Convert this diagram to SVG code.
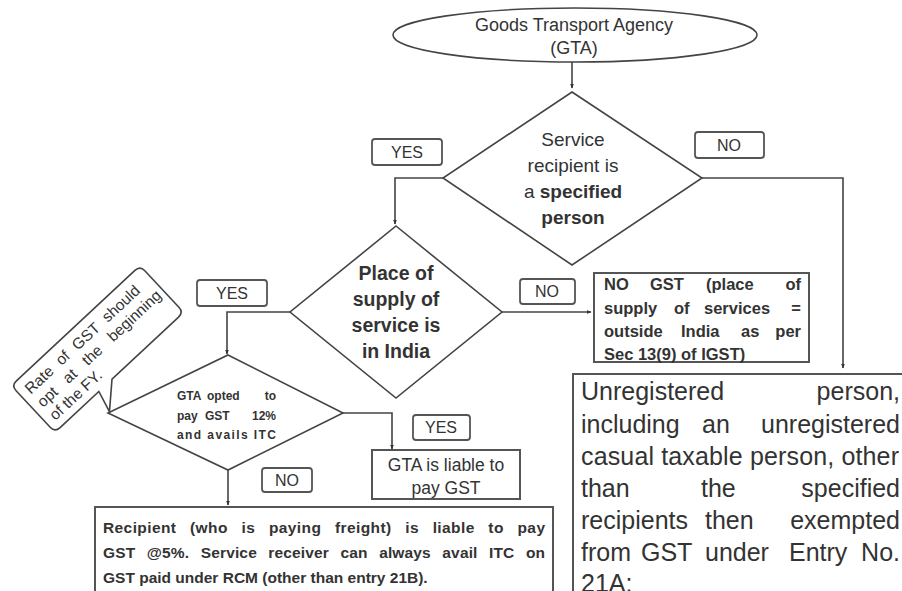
<svg xmlns="http://www.w3.org/2000/svg" width="902" height="591" viewBox="0 0 902 591">
<defs>
<marker id="ah" viewBox="0 0 10 10" refX="9" refY="5" markerWidth="5" markerHeight="5" orient="auto-start-reverse" markerUnits="userSpaceOnUse">
<path d="M0,1 L10,5 L0,9 z" fill="#333"/>
</marker>
<style>
.shape{fill:#fff;stroke:#444;stroke-width:1.6}
.box{fill:#fff;stroke:#555;stroke-width:2}
.lbl{fill:#fff;stroke:#555;stroke-width:1.8}
.conn{fill:none;stroke:#444;stroke-width:1.6}
text{font-family:"Liberation Sans",Arial,sans-serif;fill:#333}
.c{text-anchor:middle}
.b{font-weight:bold}
.e{text-anchor:end}
</style>
</defs>
<rect width="902" height="591" fill="#fff"/>

<g id="connectors">
<path class="conn" d="M572,62 V88" marker-end="url(#ah)"/>
<path class="conn" d="M443,178 H395 V224" marker-end="url(#ah)"/>
<path class="conn" d="M702,178 H843 V368" marker-end="url(#ah)"/>
<path class="conn" d="M290,312 H227 V354" marker-end="url(#ah)"/>
<path class="conn" d="M502,312 H591" marker-end="url(#ah)"/>
<path class="conn" d="M343,413 H392 V449" marker-end="url(#ah)"/>
<path class="conn" d="M228,470 V505" marker-end="url(#ah)"/>
</g>

<g id="start">
<ellipse class="shape" cx="575" cy="35" rx="182" ry="27"/>
<text class="c" x="574" y="31" font-size="18">Goods Transport Agency</text>
<text class="c" x="574" y="54" font-size="18">(GTA)</text>
</g>

<g id="d1">
<polygon class="shape" points="572,92 702,178 572,265 443,178"/>
<text class="c" x="573" y="146" font-size="19">Service</text>
<text class="c" x="573" y="172" font-size="19">recipient is</text>
<text class="c" x="573" y="198" font-size="19">a <tspan class="b">specified</tspan></text>
<text class="c b" x="573" y="224" font-size="19">person</text>
</g>

<g id="yes1">
<rect class="lbl" x="372" y="139" width="70" height="26" rx="3"/>
<text class="c" x="407" y="158" font-size="16">YES</text>
</g>
<g id="no1">
<rect class="lbl" x="695" y="132" width="69" height="26" rx="3"/>
<text class="c" x="729" y="151" font-size="16">NO</text>
</g>

<g id="d2">
<polygon class="shape" points="396,226 502,312 396,398 290,312"/>
<text class="c b" x="396" y="280" font-size="19.5">Place of</text>
<text class="c b" x="396" y="306" font-size="19.5">supply of</text>
<text class="c b" x="396" y="332" font-size="19.5">service is</text>
<text class="c b" x="396" y="358" font-size="19.5">in India</text>
</g>

<g id="no2">
<rect class="lbl" x="520" y="279" width="55" height="25" rx="3"/>
<text class="c" x="547" y="297" font-size="16">NO</text>
</g>

<g id="nogst">
<rect class="box" x="594" y="273" width="215" height="89"/>
<g class="b" font-size="16.5">
<text x="604" y="290">NO</text><text x="650" y="290">GST</text><text x="706" y="290">(place</text><text class="e" x="801" y="290">of</text>
<text x="604" y="314">supply</text><text x="674" y="314">of</text><text x="704" y="314">services</text><text class="e" x="801" y="314">=</text>
<text x="604" y="337">outside</text><text x="681" y="337">India</text><text x="741" y="337">as</text><text class="e" x="801" y="337">per</text>
<text x="604" y="360">Sec 13(9) of IGST)</text>
</g>
</g>

<g id="unreg">
<rect class="box" x="573" y="374" width="340" height="230"/>
<g font-size="25">
<text x="581" y="400">Unregistered</text><text class="e" x="900" y="400">person,</text>
<text x="581" y="433">including</text><text x="702" y="433">an</text><text class="e" x="900" y="433">unregistered</text>
<text x="581" y="465" textLength="318" lengthAdjust="spacing">casual taxable person, other</text>
<text x="581" y="497">than</text><text x="701" y="497">the</text><text class="e" x="900" y="497">specified</text>
<text x="581" y="529">recipients</text><text x="705" y="529">then</text><text class="e" x="900" y="529">exempted</text>
<text x="581" y="561">from</text><text x="641" y="561">GST</text><text x="705" y="561">under</text><text x="789" y="561">Entry</text><text class="e" x="900" y="561">No.</text>
<text x="581" y="592">21A:</text>
</g>
</g>

<g id="yes2">
<rect class="lbl" x="197" y="280" width="70" height="26" rx="3"/>
<text class="c" x="232" y="299" font-size="16">YES</text>
</g>

<g id="callout">
<g transform="translate(97.5,349) rotate(-43)">
<path class="shape" d="M-81,-32 H81 Q88,-32 88,-25 V25 Q88,32 81,32 H-10 L-34,54 L-28,32 H-81 Q-88,32 -88,25 V-25 Q-88,-32 -81,-32 Z"/>
<g font-size="15.5">
<text x="-80" y="-12" word-spacing="5">Rate of GST should</text>
<text x="-80" y="6" word-spacing="9">opt at the beginning</text>
<text x="-80" y="24">of the FY.</text>
</g>
</g>
</g>

<g id="d3">
<polygon class="shape" points="228,355 343,413 228,470 108,413"/>
<g class="b" font-size="12">
<text x="177" y="400">GTA</text><text x="207" y="400">opted</text><text class="e" x="276" y="400">to</text>
<text x="177" y="420">pay</text><text x="205" y="420">GST</text><text class="e" x="276" y="420">12%</text>
<text x="177" y="439" textLength="99" lengthAdjust="spacing">and avails ITC</text>
</g>
</g>

<g id="yes3">
<rect class="lbl" x="413" y="415" width="57" height="25" rx="3"/>
<text class="c" x="441" y="433" font-size="16">YES</text>
</g>

<g id="gta">
<rect class="box" x="372" y="450" width="148" height="49"/>
<text class="c" x="446" y="471" font-size="17.5">GTA is liable to</text>
<text class="c" x="446" y="494" font-size="17.5">pay GST</text>
</g>

<g id="no3">
<rect class="lbl" x="262" y="468" width="50" height="24" rx="3"/>
<text class="c" x="287" y="486" font-size="16">NO</text>
</g>

<g id="recipient">
<rect class="box" x="95" y="507" width="458" height="100"/>
<g class="b" font-size="15.5">
<text x="103" y="533" word-spacing="9" textLength="442" lengthAdjust="spacing">Recipient (who is paying freight) is liable to pay</text>
<text x="103" y="558" word-spacing="7" textLength="442" lengthAdjust="spacing">GST @5%. Service receiver can always avail ITC on</text>
<text x="103" y="583">GST paid under RCM (other than entry 21B).</text>
</g>
</g>
</svg>
